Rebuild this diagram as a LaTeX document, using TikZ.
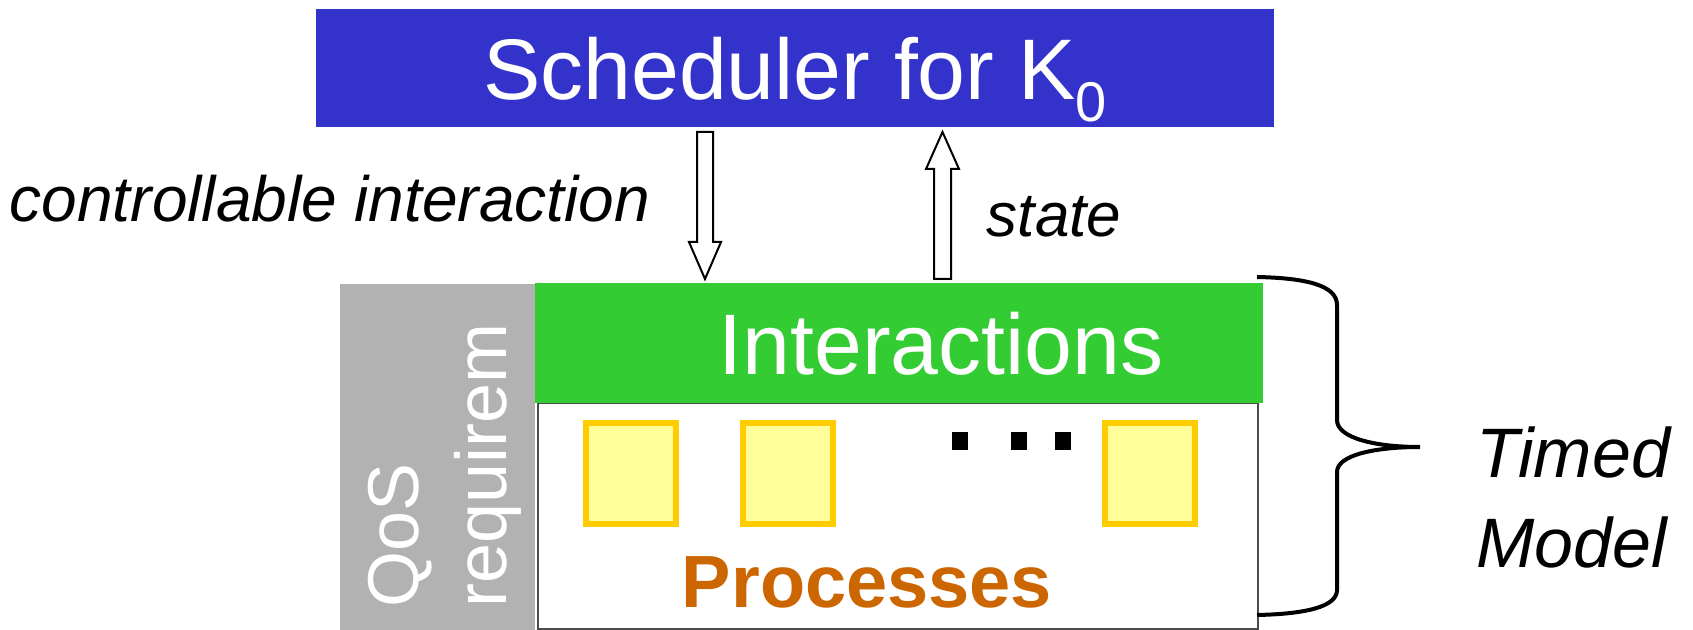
\documentclass[tikz,border=0pt]{standalone}
\usepackage{fontspec}
\setmainfont{Liberation Sans}
\usepackage{tikz}
\usetikzlibrary{positioning, calc}

\definecolor{schedblue}{RGB}{51,51,204}
\definecolor{intgreen}{RGB}{51,204,51}
\definecolor{qosgray}{RGB}{178,178,178}
\definecolor{procfill}{RGB}{255,255,153}
\definecolor{procline}{RGB}{255,204,0}
\definecolor{proctext}{RGB}{204,102,0}

\tikzset{
    bar/.style={rectangle, inner sep=0pt, outer sep=0pt},
    proc/.style={rectangle, draw=procline, fill=procfill, line width=3pt, minimum width=45pt, minimum height=50.5pt, inner sep=0pt},
    hollow/.style={draw=black, fill=white, line width=1pt, line join=miter}
}

\begin{document}
\begin{tikzpicture}[x=0.5pt, y=-0.5pt]
    \useasboundingbox (0,0) rectangle (1693,630);

    % Scheduler
    \node[bar, fill=schedblue, minimum width=479pt, minimum height=59pt] (sched) at (795,68) {};
    \node[anchor=base, text=white, font=\fontsize{43}{50}\selectfont] (schedtext) at (795,100) {Scheduler for K\raisebox{-11pt}{\fontsize{28}{28}\selectfont 0}};

    % QoS side bar
    \node[bar, fill=qosgray, minimum width=97.5pt, minimum height=173pt] (qos) at (437.5,457) {};
    \node[rotate=90, anchor=west, inner sep=0pt, align=left, text=white, font=\fontsize{36}{44}\selectfont] (qostext) at (445,608) {QoS\\requirem};

    % Process area
    \node[bar, draw=black!70, line width=0.8pt, fill=white, minimum width=360pt, minimum height=113pt] (procs) at (898,516) {};

    % Interactions
    \node[bar, fill=intgreen, minimum width=364pt, minimum height=60pt] (inter) at (899,343) {};
    \node[anchor=base, text=white, font=\fontsize{43}{50}\selectfont] (intertext) at (941,375) {Interactions};

    % Processes
    \node[proc] (p1) at (630.5,473.5) {};
    \node[proc] (p2) at (787.5,473.5) {};
    \node[proc] (p3) at (1150,473.5) {};
    \foreach \x in {960,1018.5,1063}
        \fill (\x-8,432) rectangle (\x+8,450);
    \node[anchor=base, text=proctext, font=\bfseries\fontsize{37}{44}\selectfont] (proctitle) at (867,608) {Processes};

    % Controllable interaction arrow
    \coordinate (dtop) at ($(sched.south)+(-90,5)$);
    \coordinate (dbot) at ($(dtop |- inter.north)+(0,-4)$);
    \draw[hollow] let \p1=(dtop), \p2=(dbot) in
        (\x1-4pt,\y1) -- (\x1+4pt,\y1) -- (\x1+4pt,\y2+18.5pt) -- (\x1+8pt,\y2+18.5pt)
        -- (\x2,\y2) -- (\x1-8pt,\y2+18.5pt) -- (\x1-4pt,\y2+18.5pt) -- cycle;

    % State arrow
    \coordinate (ubot) at ($(inter.north)+(43.5,-4)$);
    \coordinate (utop) at ($(ubot |- sched.south)+(0,5)$);
    \draw[hollow] let \p1=(ubot), \p2=(utop) in
        (\x1-4.25pt,\y1) -- (\x1+4.25pt,\y1) -- (\x1+4.25pt,\y2-18.5pt) -- (\x1+8.25pt,\y2-18.5pt)
        -- (\x2,\y2) -- (\x1-8.25pt,\y2-18.5pt) -- (\x1-4.25pt,\y2-18.5pt) -- cycle;

    % Labels
    \node[anchor=base, font=\itshape\fontsize{32}{36}\selectfont] (ctrl) at (330,222) {controllable interaction};
    \node[anchor=base, font=\itshape\fontsize{31}{36}\selectfont] (state) at (1054,237) {state};

    % Brace
    \draw[line width=2pt] (1257,277) .. controls (1305,278) and (1337,285) .. (1337,305)
        -- (1337,420) .. controls (1337,438) and (1375,447) .. (1420,447)
        .. controls (1375,447) and (1337,455) .. (1337,472)
        -- (1337,590) .. controls (1337,607) and (1305,614) .. (1257,615);
    \node[align=left, font=\itshape\fontsize{35}{45}\selectfont] (timed) at (1573,497) {Timed\\Model};
\end{tikzpicture}
\end{document}
